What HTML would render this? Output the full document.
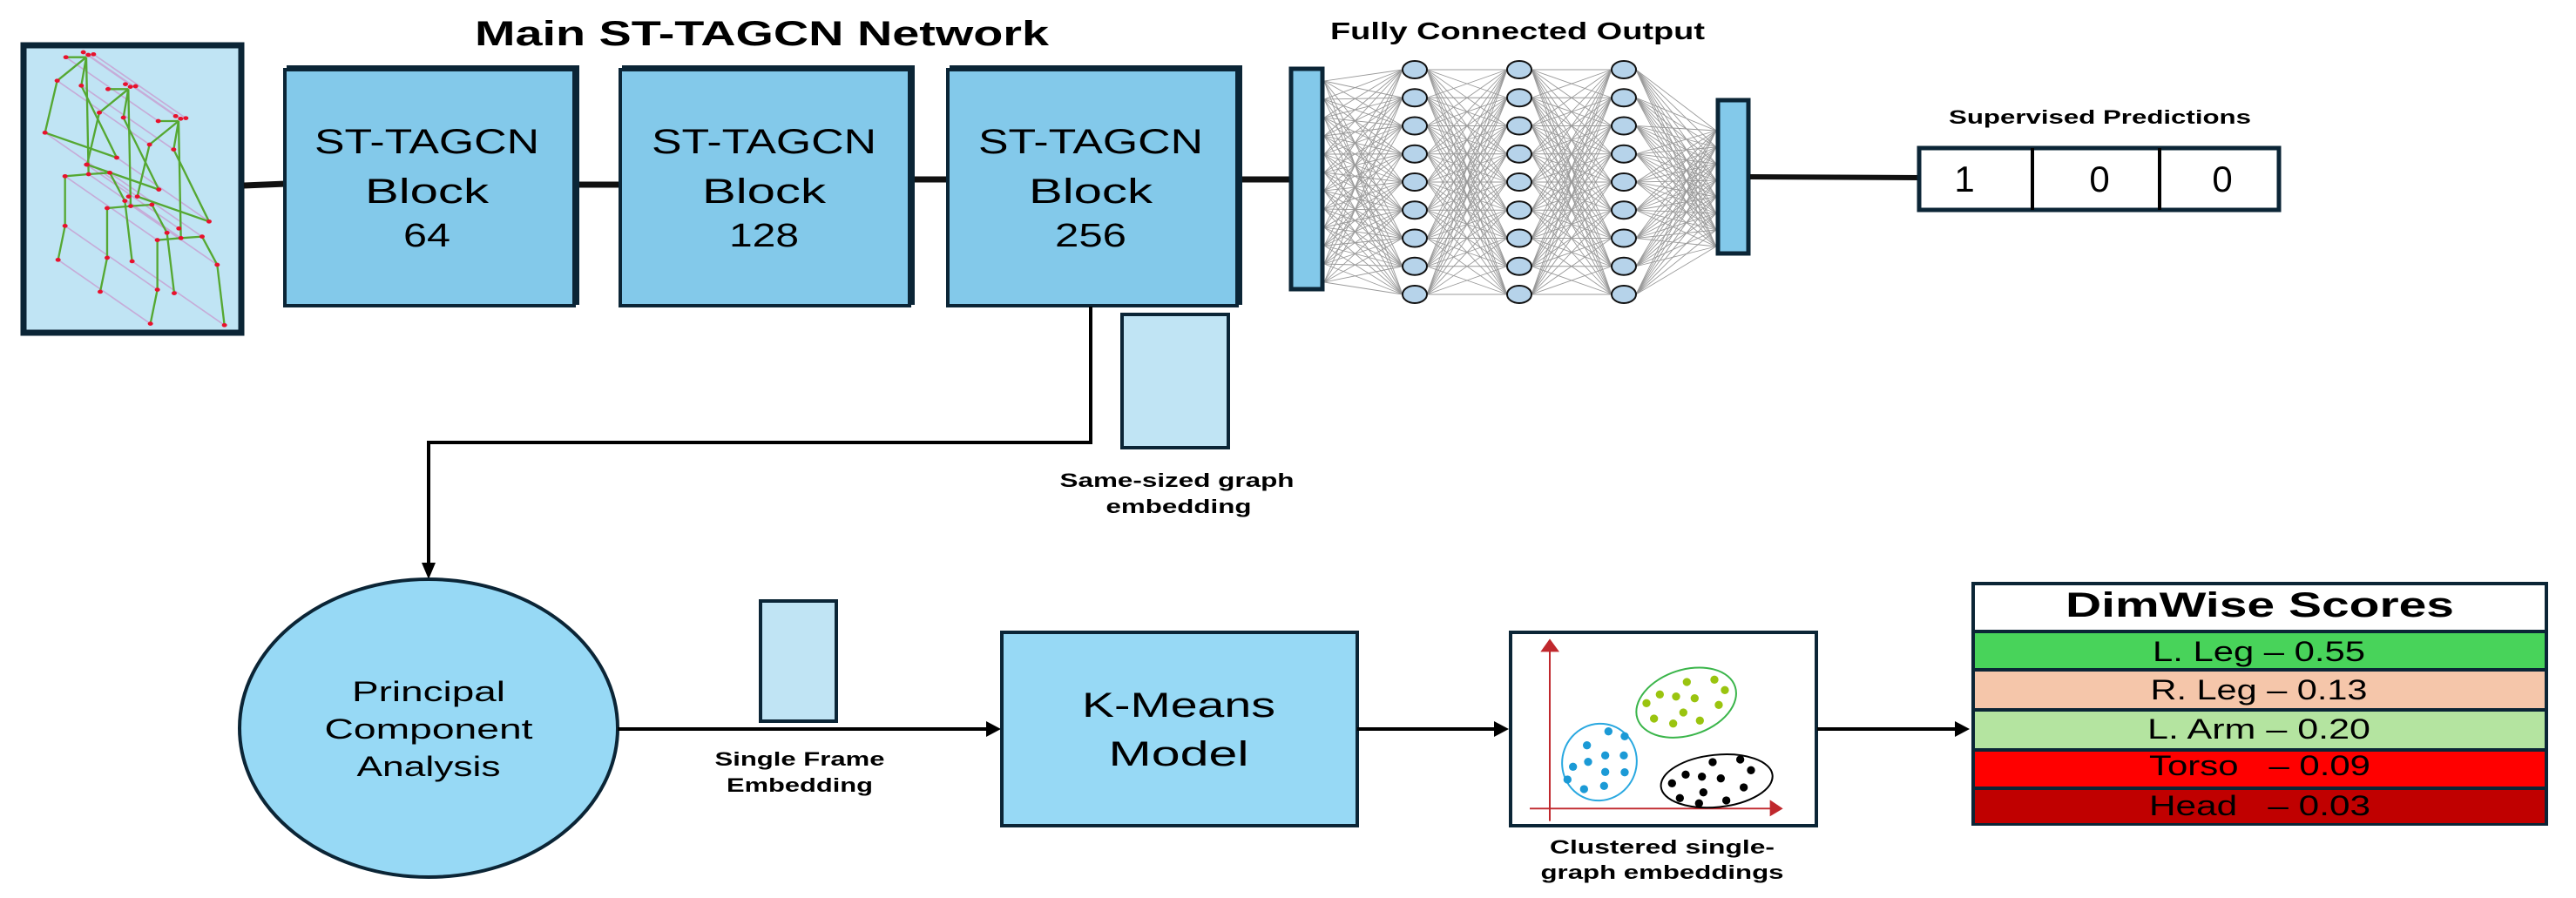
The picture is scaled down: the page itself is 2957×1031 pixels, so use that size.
<!DOCTYPE html>
<html><head><meta charset="utf-8"><style>
html,body{margin:0;padding:0;background:#fff;}
svg{display:block;}
text{font-family:"Liberation Sans",sans-serif;fill:#000;white-space:pre;}
</style></head><body>
<svg width="2957" height="1031" viewBox="0 0 2957 1031" xmlns="http://www.w3.org/2000/svg" xml:space="preserve">

<!-- Skeleton box -->
<rect x="27" y="52" width="250" height="330" fill="#c0e4f4" stroke="#0b2536" stroke-width="7"/>
<g id="skel" transform="translate(20,45) scale(0.3333)"></g>

<!-- Title -->
<text x="545" y="52" font-size="40" font-weight="bold" textLength="659" lengthAdjust="spacingAndGlyphs">Main ST-TAGCN Network</text>

<!-- top connectors -->
<line x1="280" y1="213" x2="328" y2="211" stroke="#111" stroke-width="7"/>
<line x1="662" y1="212" x2="712" y2="212" stroke="#111" stroke-width="7"/>
<line x1="1048" y1="206" x2="1088" y2="206" stroke="#111" stroke-width="7"/>
<line x1="1424" y1="206" x2="1480" y2="206" stroke="#111" stroke-width="7"/>

<!-- Blocks -->
<g>
<rect x="329" y="75" width="336" height="275" fill="#0b2536"/>
<rect x="327" y="80" width="332" height="271" fill="#83c9ea" stroke="#0b2536" stroke-width="4"/>
<text x="490" y="176" font-size="40" text-anchor="middle" textLength="258" lengthAdjust="spacingAndGlyphs">ST-TAGCN</text>
<text x="490" y="233" font-size="40" text-anchor="middle" textLength="142" lengthAdjust="spacingAndGlyphs">Block</text>
<text x="490" y="283" font-size="38" text-anchor="middle" textLength="54" lengthAdjust="spacingAndGlyphs">64</text>

<rect x="714" y="75" width="336" height="275" fill="#0b2536"/>
<rect x="712" y="80" width="332" height="271" fill="#83c9ea" stroke="#0b2536" stroke-width="4"/>
<text x="877" y="176" font-size="40" text-anchor="middle" textLength="258" lengthAdjust="spacingAndGlyphs">ST-TAGCN</text>
<text x="877" y="233" font-size="40" text-anchor="middle" textLength="142" lengthAdjust="spacingAndGlyphs">Block</text>
<text x="877" y="283" font-size="38" text-anchor="middle" textLength="80" lengthAdjust="spacingAndGlyphs">128</text>

<rect x="1090" y="75" width="336" height="275" fill="#0b2536"/>
<rect x="1088" y="80" width="332" height="271" fill="#83c9ea" stroke="#0b2536" stroke-width="4"/>
<text x="1252" y="176" font-size="40" text-anchor="middle" textLength="258" lengthAdjust="spacingAndGlyphs">ST-TAGCN</text>
<text x="1252" y="233" font-size="40" text-anchor="middle" textLength="142" lengthAdjust="spacingAndGlyphs">Block</text>
<text x="1252" y="283" font-size="38" text-anchor="middle" textLength="82" lengthAdjust="spacingAndGlyphs">256</text>
</g>

<!-- Same-sized embedding -->
<rect x="1288" y="361" width="122" height="153" fill="#c0e4f4" stroke="#0b2536" stroke-width="4"/>
<text x="1351" y="559" font-size="22" font-weight="bold" text-anchor="middle" textLength="269" lengthAdjust="spacingAndGlyphs">Same-sized graph</text>
<text x="1353" y="589" font-size="22" font-weight="bold" text-anchor="middle" textLength="167" lengthAdjust="spacingAndGlyphs">embedding</text>

<!-- connector to PCA -->
<polyline points="1252,352 1252,508 492,508 492,648" fill="none" stroke="#000" stroke-width="4"/>
<polygon points="484,646 500,646 492,665" fill="#000"/>

<!-- FC network -->
<text x="1527" y="45" font-size="28" font-weight="bold" textLength="430" lengthAdjust="spacingAndGlyphs">Fully Connected Output</text>
<g id="fclines" stroke="#777" stroke-width="0.9" opacity="0.75"></g>
<rect x="1482" y="79" width="36" height="253" fill="#83c9ea" stroke="#0b2536" stroke-width="5"/>
<rect x="1972" y="115" width="35" height="176" fill="#83c9ea" stroke="#0b2536" stroke-width="5"/>
<g id="neurons" fill="#b6d3ea" stroke="#111" stroke-width="2"></g>

<!-- to predictions -->
<line x1="2009" y1="203" x2="2203" y2="204" stroke="#111" stroke-width="6"/>
<text x="2237" y="142" font-size="22" font-weight="bold" textLength="347" lengthAdjust="spacingAndGlyphs">Supervised Predictions</text>
<rect x="2203" y="170" width="413" height="71" fill="#fff" stroke="#0b2536" stroke-width="5"/>
<line x1="2333" y1="170" x2="2333" y2="241" stroke="#000" stroke-width="4"/>
<line x1="2479" y1="170" x2="2479" y2="241" stroke="#000" stroke-width="4"/>
<text x="2255" y="220" font-size="42" text-anchor="middle">1</text>
<text x="2410" y="220" font-size="42" text-anchor="middle">0</text>
<text x="2551" y="220" font-size="42" text-anchor="middle">0</text>

<!-- PCA ellipse -->
<ellipse cx="492" cy="836" rx="217" ry="171" fill="#97d9f5" stroke="#0b2536" stroke-width="4"/>
<text x="492" y="805" font-size="32" text-anchor="middle" textLength="176" lengthAdjust="spacingAndGlyphs">Principal</text>
<text x="492" y="848" font-size="32" text-anchor="middle" textLength="239" lengthAdjust="spacingAndGlyphs">Component</text>
<text x="492" y="891" font-size="32" text-anchor="middle" textLength="165" lengthAdjust="spacingAndGlyphs">Analysis</text>

<!-- single frame embedding -->
<rect x="873" y="690" width="87" height="138" fill="#c0e4f4" stroke="#0b2536" stroke-width="4"/>
<line x1="709" y1="837" x2="1134" y2="837" stroke="#000" stroke-width="4"/>
<polygon points="1132,828 1149,837 1132,846" fill="#000"/>
<text x="918" y="879" font-size="22" font-weight="bold" text-anchor="middle" textLength="195" lengthAdjust="spacingAndGlyphs">Single Frame</text>
<text x="918" y="909" font-size="22" font-weight="bold" text-anchor="middle" textLength="168" lengthAdjust="spacingAndGlyphs">Embedding</text>

<!-- K-Means -->
<rect x="1150" y="726" width="408" height="222" fill="#97d9f5" stroke="#0b2536" stroke-width="4"/>
<text x="1353" y="823" font-size="40" text-anchor="middle" textLength="222" lengthAdjust="spacingAndGlyphs">K-Means</text>
<text x="1353" y="879" font-size="40" text-anchor="middle" textLength="161" lengthAdjust="spacingAndGlyphs">Model</text>
<line x1="1558" y1="837" x2="1716" y2="837" stroke="#000" stroke-width="4"/>
<polygon points="1715,828 1732,837 1715,846" fill="#000"/>

<!-- Cluster box -->
<rect x="1734" y="726" width="351" height="222" fill="#fff" stroke="#0b2536" stroke-width="4"/>
<g transform="translate(1730,720) scale(0.3333)">
  <line x1="147" y1="668" x2="147" y2="70" stroke="#c0282d" stroke-width="6"/>
  <polygon points="115,85 147,40 180,85" fill="#c0282d"/>
  <line x1="78" y1="625" x2="920" y2="625" stroke="#c0282d" stroke-width="6"/>
  <polygon points="905,595 950,625 905,652" fill="#c0282d"/>
  <ellipse cx="617" cy="260" rx="177" ry="113" transform="rotate(-18 617 260)" fill="none" stroke="#3ab54a" stroke-width="6"/>
  <ellipse cx="318" cy="465" rx="133" ry="128" transform="rotate(-70 318 465)" fill="none" stroke="#29a8e0" stroke-width="6"/>
  <ellipse cx="722" cy="530" rx="193" ry="90" transform="rotate(-6 722 530)" fill="none" stroke="#000" stroke-width="6"/>
  <g fill="#9ac40f">
   <circle cx="619" cy="189" r="14"/><circle cx="714" cy="181" r="14"/><circle cx="750" cy="217" r="14"/><circle cx="526" cy="232" r="14"/><circle cx="582" cy="239" r="14"/><circle cx="646" cy="245" r="14"/><circle cx="480" cy="262" r="14"/><circle cx="729" cy="268" r="14"/><circle cx="607" cy="294" r="14"/><circle cx="506" cy="315" r="14"/><circle cx="572" cy="332" r="14"/><circle cx="664" cy="322" r="14"/>
  </g>
  <g fill="#1b9ad6">
   <circle cx="349" cy="359" r="14"/><circle cx="405" cy="376" r="14"/><circle cx="275" cy="407" r="14"/><circle cx="338" cy="442" r="14"/><circle cx="402" cy="442" r="14"/><circle cx="279" cy="464" r="14"/><circle cx="227" cy="481" r="14"/><circle cx="338" cy="499" r="14"/><circle cx="405" cy="500" r="14"/><circle cx="208" cy="525" r="14"/><circle cx="334" cy="547" r="14"/><circle cx="265" cy="558" r="14"/>
  </g>
  <g fill="#000">
   <circle cx="708" cy="465" r="14"/><circle cx="803" cy="456" r="14"/><circle cx="840" cy="493" r="14"/><circle cx="615" cy="508" r="14"/><circle cx="671" cy="515" r="14"/><circle cx="736" cy="521" r="14"/><circle cx="568" cy="538" r="14"/><circle cx="815" cy="552" r="14"/><circle cx="676" cy="569" r="14"/><circle cx="595" cy="589" r="14"/><circle cx="661" cy="607" r="14"/><circle cx="755" cy="597" r="14"/>
  </g>
</g>
<text x="1908" y="980" font-size="22" font-weight="bold" text-anchor="middle" textLength="258" lengthAdjust="spacingAndGlyphs">Clustered single-</text>
<text x="1908" y="1009" font-size="22" font-weight="bold" text-anchor="middle" textLength="279" lengthAdjust="spacingAndGlyphs">graph embeddings</text>

<line x1="2086" y1="837" x2="2245" y2="837" stroke="#000" stroke-width="4"/>
<polygon points="2244,828 2261,837 2244,846" fill="#000"/>

<!-- DimWise table -->
<rect x="2263" y="668" width="662" height="280" fill="#0b2536"/>
<rect x="2267" y="672" width="654" height="51" fill="#fff"/>
<rect x="2267" y="727" width="654" height="40" fill="#48d35a"/>
<rect x="2267" y="771" width="654" height="42" fill="#f5c6aa"/>
<rect x="2267" y="817" width="654" height="42" fill="#b4e4a0"/>
<rect x="2267" y="863" width="654" height="40" fill="#ff0000"/>
<rect x="2267" y="907" width="654" height="38" fill="#c00000"/>
<text x="2594" y="708" font-size="40" font-weight="bold" text-anchor="middle" textLength="446" lengthAdjust="spacingAndGlyphs">DimWise Scores</text>
<text x="2593" y="759" font-size="32" text-anchor="middle" textLength="244" lengthAdjust="spacingAndGlyphs">L. Leg – 0.55</text>
<text x="2593" y="803" font-size="32" text-anchor="middle" textLength="249" lengthAdjust="spacingAndGlyphs">R. Leg – 0.13</text>
<text x="2593" y="848" font-size="32" text-anchor="middle" textLength="256" lengthAdjust="spacingAndGlyphs">L. Arm – 0.20</text>
<text x="2594" y="890" font-size="32" text-anchor="middle" textLength="254" lengthAdjust="spacingAndGlyphs">Torso&#160;&#160;&#160;– 0.09</text>
<text x="2594" y="936" font-size="32" text-anchor="middle" textLength="254" lengthAdjust="spacingAndGlyphs">Head&#160;&#160;&#160;– 0.03</text>
</svg>
<script>
(function(){
var NS="http://www.w3.org/2000/svg";
function el(p,t,a){var e=document.createElementNS(NS,t);for(var k in a)e.setAttribute(k,a[k]);p.appendChild(e);return e;}
var cols=[1624,1744,1864], rows=[];
for(var i=0;i<9;i++)rows.push(80+i*32.25);
var L=document.getElementById('fclines');
var leftY=[];for(i=0;i<12;i++)leftY.push(93+i*21);
for(i=0;i<12;i++)for(var j=0;j<9;j++)if((i+j)%2==0||Math.abs(i*0.75-j)<3)el(L,'line',{x1:1520,y1:leftY[i],x2:cols[0]-14,y2:rows[j]});
for(var c=0;c<2;c++)for(i=0;i<9;i++)for(j=0;j<9;j++)el(L,'line',{x1:cols[c]+14,y1:rows[i],x2:cols[c+1]-14,y2:rows[j]});
var rightY=[];for(i=0;i<8;i++)rightY.push(150+i*19);
for(i=0;i<9;i++)for(j=0;j<8;j++)el(L,'line',{x1:cols[2]+14,y1:rows[i],x2:1970,y2:rightY[j]});
var N=document.getElementById('neurons');
for(c=0;c<3;c++)for(i=0;i<9;i++)el(N,'ellipse',{cx:cols[c],cy:rows[i],rx:14,ry:10});
var S=document.getElementById('skel');
var segs=[[[167,62],[237,62]],[[237,62],[137,143],[95,322],[342,408]],[[237,62],[220,160],[342,408]],[[237,62],[245,465]],[[164,472],[245,465],[318,460]],[[164,472],[164,643],[140,760]],[[318,460],[370,557],[395,765]]];
var pts=[[227,45],[262,52],[244,54],[167,62],[137,143],[95,322],[342,408],[220,160],[238,432],[164,472],[245,465],[318,460],[164,643],[140,760],[370,557],[395,765]];
var offs=[[0,0],[145,110],[318,220]];
pts.forEach(function(p){el(S,'line',{x1:p[0],y1:p[1],x2:p[0]+318,y2:p[1]+220,stroke:'#c6acd8','stroke-width':5});});
offs.forEach(function(o){
 segs.forEach(function(s){el(S,'polyline',{points:s.map(function(p){return (p[0]+o[0])+','+(p[1]+o[1]);}).join(' '),fill:'none',stroke:'#55a832','stroke-width':7,'stroke-linejoin':'round'});});
});
offs.forEach(function(o){pts.forEach(function(p){el(S,'ellipse',{cx:p[0]+o[0],cy:p[1]+o[1],rx:9,ry:7,fill:'#e8112d'});});});
})();
</script>
</body></html>
